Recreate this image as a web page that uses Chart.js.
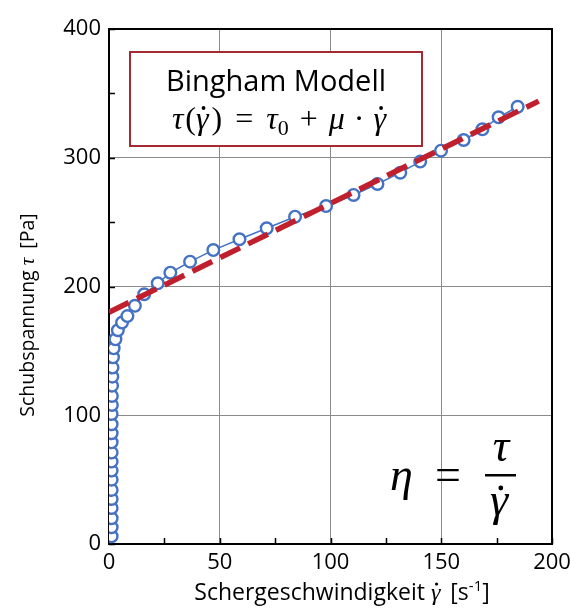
<!DOCTYPE html>
<html>
<head>
<meta charset="utf-8">
<script src="https://cdn.jsdelivr.net/npm/chart.js@4.4.1/dist/chart.umd.min.js"></script>
<style>
  html, body { margin: 0; padding: 0; background: #fff; }
  #wrap { width: 571px; height: 608px; }
</style>
</head>
<body>
<div id="wrap"><canvas id="chart" width="571" height="608"></canvas></div>
<script>
// measured flow curve: shear rate [1/s] and shear stress [Pa]
const shearRate = [1.2, 1.2, 1.2, 1.2, 1.2, 1.2, 1.2, 1.2, 1.2, 1.2, 1.2, 1.2, 1.2, 1.2,
  1.3, 1.3, 1.4, 1.5, 1.6, 1.8, 2.1, 2.9, 4.0, 5.9, 8.3, 11.7, 15.9, 22.0, 27.7, 36.6,
  47.1, 58.9, 71.2, 84.0, 98.0, 110.4, 121.2, 131.5, 140.5, 149.9, 160.1, 168.6, 175.9, 184.5];
const shearStress = [6, 13, 20, 28, 35, 42, 50, 57, 64, 71, 79, 86, 93, 101,
  108, 115, 123, 130, 137, 145, 152, 159, 166, 172, 177, 185, 194, 202.5, 210.7, 219.3,
  228.3, 236.7, 245.2, 254.2, 262.5, 271.1, 279.6, 288.4, 297, 305.5, 313.8, 322.1, 331.4, 339.6];

// Bingham fit: tau = tau0 + mu * rate
const fitRate = [0, 194];
const fitStress = [180, 344];

const xTickStep = 25, xLabelStep = 50;
const yTickStep = 50, yLabelStep = 100;

const BLUE = '#4472C4';
const RED = '#C0202D';
const SERIF_I = 'italic ', SERIF = '"Liberation Serif", "DejaVu Serif", serif';
const SANS = '"Open Sans", "Noto Sans", sans-serif';

// draws a run of text pieces with mixed fonts; pieces can carry a dot accent
function drawRuns(ctx, runs, x, y, align) {
  let total = 0;
  runs.forEach(r => {
    ctx.font = r.font;
    r.w = ctx.measureText(r.t).width;
    total += r.w + (r.gap || 0);
  });
  let cx = align === 'center' ? x - total / 2 : x;
  runs.forEach(r => {
    ctx.font = r.font;
    ctx.fillText(r.t, cx, y + (r.dy || 0));
    if (r.dot) {
      ctx.beginPath();
      ctx.arc(cx + r.w * r.dot[0], y + r.dot[1], r.dot[2], 0, Math.PI * 2);
      ctx.fill();
    }
    cx += r.w + (r.gap || 0);
  });
}

const framePlugin = {
  id: 'frame',
  beforeDatasetsDraw(chart) {
    const { ctx, chartArea: a, scales } = chart;
    ctx.save();
    ctx.strokeStyle = '#000';
    ctx.lineWidth = 1.5;
    ctx.beginPath();
    scales.x.ticks.forEach(t => {
      const px = Math.round(scales.x.getPixelForValue(t.value)) + 0.5;
      ctx.moveTo(px, a.bottom);
      ctx.lineTo(px, a.bottom - 6);
    });
    scales.y.ticks.forEach(t => {
      const py = Math.round(scales.y.getPixelForValue(t.value)) + 0.5;
      ctx.moveTo(a.left, py);
      ctx.lineTo(a.left + 6, py);
    });
    ctx.stroke();
    ctx.lineWidth = 2;
    ctx.strokeRect(a.left, a.top, a.right - a.left, a.bottom - a.top);
    ctx.restore();
  }
};

const textPlugin = {
  id: 'texts',
  afterDraw(chart) {
    const { ctx } = chart;
    ctx.save();
    ctx.fillStyle = '#000';
    ctx.textBaseline = 'alphabetic';
    ctx.textAlign = 'left';

    // axis titles
    drawRuns(ctx, [
      { t: 'Schergeschwindigkeit ', font: '23px ' + SANS },
      { t: 'γ', font: SERIF_I + '24px ' + SERIF, dot: [0.6, -16, 1.6], gap: 4 },
      { t: ' [s', font: '23px ' + SANS },
      { t: '-1', font: '15px ' + SANS, dy: -9 },
      { t: ']', font: '23px ' + SANS }
    ], 342, 600, 'center');

    ctx.save();
    ctx.translate(34, 315);
    ctx.rotate(-Math.PI / 2);
    drawRuns(ctx, [
      { t: 'Schubspannung ', font: '19.5px ' + SANS },
      { t: 'τ', font: SERIF_I + '21px ' + SERIF, gap: 4 },
      { t: ' [Pa]', font: '19.5px ' + SANS }
    ], 0, 0, 'center');
    ctx.restore();

    // model box
    ctx.fillStyle = '#fff';
    ctx.fillRect(130, 52, 292, 94);
    ctx.strokeStyle = '#A32A30';
    ctx.lineWidth = 2;
    ctx.strokeRect(130, 52, 292, 94);
    ctx.fillStyle = '#000';
    drawRuns(ctx, [{ t: 'Bingham Modell', font: '29px ' + SANS }], 276, 91, 'center');
    const f = '32px ' + SERIF, fi = SERIF_I + '32px ' + SERIF;
    drawRuns(ctx, [
      { t: 'τ', font: fi, gap: 2 },
      { t: '(', font: f },
      { t: 'γ', font: fi, dot: [0.6, -21, 1.9], gap: 3 },
      { t: ')', font: f, gap: 13 },
      { t: '=', font: f, gap: 13 },
      { t: 'τ', font: fi },
      { t: '0', font: '22px ' + SERIF, dy: 6, gap: 11 },
      { t: '+', font: f, gap: 11 },
      { t: 'μ', font: fi, gap: 9 },
      { t: '·', font: f, gap: 9 },
      { t: 'γ', font: fi, dot: [0.6, -21, 1.9] }
    ], 279, 129, 'center');

    // viscosity definition
    const g = '46px ' + SERIF, gi = SERIF_I + '46px ' + SERIF;
    drawRuns(ctx, [{ t: 'η', font: gi }], 390, 490, 'left');
    drawRuns(ctx, [{ t: '=', font: g }], 435, 490, 'left');
    ctx.fillRect(485, 474, 31, 2.5);
    drawRuns(ctx, [{ t: 'τ', font: gi }], 501, 461, 'center');
    drawRuns(ctx, [{ t: 'γ', font: gi, dot: [0.6, -27, 2.4] }], 499, 515, 'center');
    ctx.restore();
  }
};

const gridColor = step => c =>
  (c.tick.value % step === 0 && c.index > 0 && c.index < c.scale.ticks.length - 1) ? '#8a8a8a' : 'transparent';

new Chart(document.getElementById('chart'), {
  type: 'scatter',
  data: {
    datasets: [
      {
        label: 'Bingham',
        data: fitRate.map((x, i) => ({ x, y: fitStress[i] })),
        showLine: true,
        borderColor: RED,
        borderWidth: 5.5,
        borderDash: [22, 9],
        pointRadius: 0,
        order: 0
      },
      {
        label: 'Messung',
        data: shearRate.map((x, i) => ({ x, y: shearStress[i] })),
        showLine: true,
        borderColor: BLUE,
        borderWidth: 1.5,
        pointRadius: 5.8,
        pointBorderWidth: 2.4,
        pointBorderColor: BLUE,
        pointBackgroundColor: '#fff',
        order: 1
      }
    ]
  },
  options: {
    responsive: false,
    animation: false,
    layout: { padding: { top: 29, right: 19, left: 0, bottom: 0 } },
    plugins: { legend: { display: false }, tooltip: { enabled: false } },
    scales: {
      x: {
        type: 'linear', min: 0, max: 200,
        border: { display: false },
        grid: { drawTicks: false, color: gridColor(xLabelStep), lineWidth: 1 },
        ticks: {
          stepSize: xTickStep, padding: 6, color: '#000', maxRotation: 0, autoSkip: false,
          font: { family: SANS, size: 22 },
          callback: v => (v % xLabelStep === 0 ? v : '')
        },
        afterFit: s => { s.height = 64; s.paddingLeft = 0; s.paddingRight = 0; }
      },
      y: {
        type: 'linear', min: 0, max: 400,
        border: { display: false },
        grid: { drawTicks: false, color: gridColor(yLabelStep), lineWidth: 1 },
        ticks: {
          stepSize: yTickStep, padding: 8, color: '#000', autoSkip: false,
          font: { family: SANS, size: 22 },
          callback: v => (v % yLabelStep === 0 ? v : '')
        },
        afterFit: s => { s.width = 109; s.paddingTop = 0; s.paddingBottom = 0; }
      }
    }
  },
  plugins: [framePlugin, textPlugin]
});
</script>
</body>
</html>
